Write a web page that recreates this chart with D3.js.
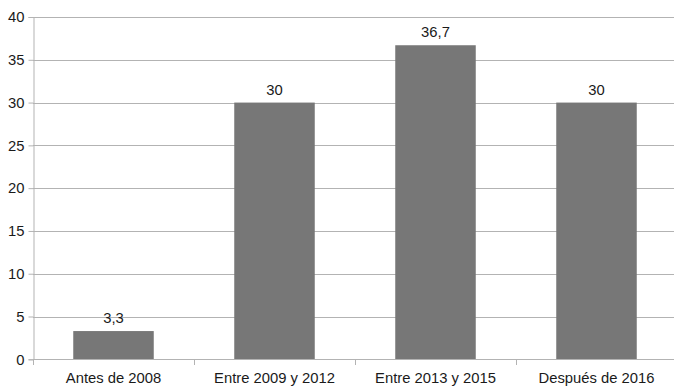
<!DOCTYPE html>
<html>
<head>
<meta charset="utf-8">
<script src="https://cdn.jsdelivr.net/npm/d3@7"></script>
<style>
  html, body { margin: 0; padding: 0; background: #fff; }
  svg { display: block; }
  text { font-family: "Liberation Sans", Arial, sans-serif; fill: #1a1a1a; }
</style>
</head>
<body>
<svg id="chart" width="674" height="387"></svg>
<script>
// Periods and share (%) for each one
const categories = ["Antes de 2008", "Entre 2009 y 2012", "Entre 2013 y 2015", "Después de 2016"];
const values = [3.3, 30, 36.7, 30];
const valueLabels = ["3,3", "30", "36,7", "30"];
const yTicks = [0, 5, 10, 15, 20, 25, 30, 35, 40];

const svg = d3.select("#chart");
const plotLeft = 33, plotRight = 677, plotTop = 17, plotBottom = 359.3;
const gridColor = "#b3b3b3";
const barColor = "#777777";
const fontSize = "14.8px";

const x = d3.scaleBand()
  .domain(categories)
  .range([plotLeft, plotRight])
  .paddingInner(0.5)
  .paddingOuter(0.25);

const y = d3.scaleLinear()
  .domain([0, 40])
  .range([plotBottom, plotTop]);

// Horizontal gridlines
svg.append("g")
  .selectAll("line")
  .data(yTicks)
  .join("line")
  .attr("x1", plotLeft).attr("x2", 674)
  .attr("y1", d => Math.round(y(d)) + 0.5)
  .attr("y2", d => Math.round(y(d)) + 0.5)
  .attr("stroke", gridColor)
  .attr("stroke-width", 1);

// Y axis
const yAxis = svg.append("g")
  .attr("transform", `translate(${plotLeft + 0.5},0)`)
  .call(d3.axisLeft(y).tickValues(yTicks).tickSize(5).tickPadding(4).tickFormat(d3.format("d")));
yAxis.select(".domain").attr("stroke", gridColor);
yAxis.selectAll(".tick line").attr("stroke", gridColor);
yAxis.selectAll(".tick text")
  .style("font-size", fontSize)
  .style("font-family", "'Liberation Sans', Arial, sans-serif")
  .attr("fill", "#1a1a1a");

// Bars
svg.append("g")
  .selectAll("rect")
  .data(values)
  .join("rect")
  .attr("x", (d, i) => x(categories[i]))
  .attr("width", x.bandwidth())
  .attr("y", d => y(d))
  .attr("height", d => y(0) - y(d))
  .attr("fill", barColor);

// X axis with ticks at category boundaries
const boundaries = categories.map(c => x(c) - x.step() * x.paddingInner() / 2)
  .concat([x(categories[categories.length - 1]) + x.bandwidth() + x.step() * x.paddingInner() / 2]);
const xg = svg.append("g");
xg.append("line")
  .attr("x1", plotLeft).attr("x2", 674)
  .attr("y1", Math.round(plotBottom) + 0.5).attr("y2", Math.round(plotBottom) + 0.5)
  .attr("stroke", gridColor);
xg.selectAll("line.tk")
  .data(boundaries)
  .join("line")
  .attr("class", "tk")
  .attr("x1", d => Math.round(d) + 0.5).attr("x2", d => Math.round(d) + 0.5)
  .attr("y1", Math.round(plotBottom)).attr("y2", Math.round(plotBottom) + 6)
  .attr("stroke", gridColor);
xg.selectAll("text")
  .data(categories)
  .join("text")
  .attr("x", d => x(d) + x.bandwidth() / 2)
  .attr("y", 383)
  .attr("text-anchor", "middle")
  .style("font-size", fontSize)
  .text(d => d);

// Value labels
svg.append("g")
  .selectAll("text")
  .data(values)
  .join("text")
  .attr("x", (d, i) => x(categories[i]) + x.bandwidth() / 2)
  .attr("y", d => y(d) - 8)
  .attr("text-anchor", "middle")
  .style("font-size", fontSize)
  .text((d, i) => valueLabels[i]);
</script>
</body>
</html>
